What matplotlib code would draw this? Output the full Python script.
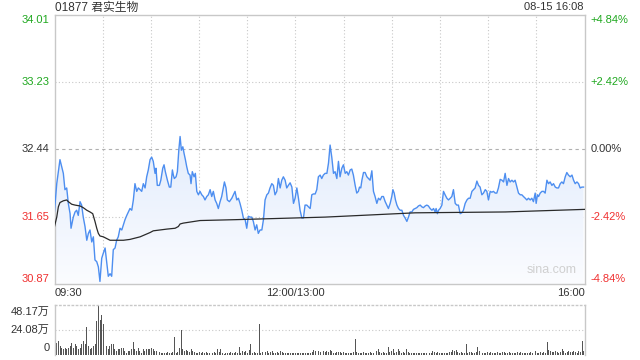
import numpy as np
import matplotlib
matplotlib.use('Agg')
import matplotlib.pyplot as plt
from matplotlib import transforms
from matplotlib.patches import Polygon
from matplotlib.colors import LinearSegmentedColormap

plt.rcParams['font.family'] = ['Liberation Sans', 'Noto Sans CJK SC', 'DejaVu Sans']

title = '01877 君实生物'
stamp = '08-15 16:08'
prev_close = 32.44
price_ticks = [30.87, 31.65, 32.44, 33.23, 34.01]
pct_labels = ['-4.84%', '-2.42%', '0.00%', '+2.42%', '+4.84%']
time_ticks = [0, 150, 330]
time_labels = ['09:30', '12:00/13:00', '16:00']
vol_ticks = [0, 24.08, 48.17]
vol_labels = ['0', '24.08万', '48.17万']

# minutes since 09:30 (lunch break removed) and last price
minutes = [0, 1.4, 3.4, 5.5, 6.5, 7.6, 8.6, 9.7, 10.3, 11.7,
           12.8, 13.8, 14.8, 15.9, 16.9, 17.9, 19.0, 20.1, 21.1, 22.1,
           23.2, 24.2, 25.2, 26.3, 27.3, 28.3, 29.4, 30.4, 31.5, 32.5,
           33.5, 34.6, 35.6, 36.6, 37.7, 38.7, 39.7, 40.8, 41.9, 42.9,
           43.9, 45.0, 46.0, 47.0, 48.1, 49.1, 50.1, 51.2, 52.2,
           53.3, 54.3, 55.3, 56.4, 57.4, 58.4, 59.5, 60.5, 61.5, 62.6,
           63.2, 64.0, 65.3, 66.2, 67.4, 68.2, 69.0, 70.3, 71.5, 72.4,
           73.4, 74.0, 74.6, 75.7, 76.5, 77.4, 78.2, 79.0, 79.9, 80.7,
           81.5, 82.3, 83.3, 84.4, 85.0, 85.8, 86.9, 87.7, 88.6, 89.6,
           90.6, 91.7, 92.7, 93.7, 94.8, 95.8, 96.9, 97.9, 98.9, 100.0,
           101.0, 102.0, 103.1, 104.1, 105.1, 105.8, 106.8, 107.6, 108.9,
           110.4, 111.4, 112.4, 113.5, 114.5, 115.5, 116.6, 117.6, 118.7, 119.7,
           120.7, 121.8, 122.8, 123.8, 124.9, 125.9, 126.9, 128.0, 129.1, 130.1,
           131.1, 132.2, 133.2, 134.2, 135.3, 136.3, 137.3, 138.4, 139.4, 140.5,
           141.5, 142.5, 143.6, 144.6, 145.6, 146.7, 147.8, 148.8, 149.8, 150.9,
           151.9, 152.9, 154.0, 155.0, 156.0, 157.1, 158.1, 159.2, 160.2, 161.2,
           162.3, 163.3, 164.3, 165.4,
           166.4, 167.4, 168.5, 169.6, 170.6, 171.6, 172.7, 173.7, 174.7, 175.8,
           176.8, 177.8, 178.9, 179.9, 181.0, 182.0, 183.0, 184.1, 185.1, 186.1,
           187.2, 188.2, 189.2, 189.9, 190.7, 191.4, 192.4, 193.4, 194.5, 195.5,
           196.5, 197.6, 198.6, 199.6, 200.7, 201.7, 202.8, 203.8, 204.8, 205.9,
           206.9, 207.9, 209.0, 210.0, 210.7, 211.5, 212.3, 213.2, 214.2, 215.2,
           216.3, 217.3, 218.3, 219.4, 220.4, 221.4,
           222.5, 223.5, 224.6, 225.6, 226.6, 227.7, 228.7, 229.7, 230.8, 231.8,
           232.8, 233.9, 235.0, 236.0, 237.0, 237.6, 238.4, 239.1, 240.1, 241.2,
           242.2, 243.2, 244.3, 245.3, 246.4, 247.4, 248.4, 249.5, 250.5, 251.5,
           252.6, 253.6, 254.6, 255.7, 256.8, 257.8, 258.8, 259.9, 260.9, 261.9,
           263.0, 264.0, 265.0, 266.1, 267.1, 268.2, 269.2, 270.2, 271.3, 272.3,
           273.3, 274.4, 275.4, 276.4, 277.5,
           278.6, 279.6, 280.6, 281.7, 282.7, 283.7, 284.8, 285.8, 286.8, 287.9,
           288.9, 290.0, 291.0, 292.0, 293.1, 294.1, 295.1, 296.2, 297.2, 298.2,
           299.3, 299.9, 300.7, 301.4, 302.4, 303.5, 304.5, 305.5, 306.6, 307.6,
           308.6, 309.7, 310.7, 311.8, 312.8, 313.8, 314.9, 315.9, 316.9, 318.0,
           319.0, 320.0, 321.1, 322.2, 323.2, 324.2, 325.3, 326.3, 327.3, 328.4,
           329.4]
price = [31.72, 32.04, 32.32, 32.16, 31.97, 31.99, 31.81, 31.69, 31.52, 31.65,
         31.71, 31.73, 31.67, 31.83, 31.79, 31.65, 31.54, 31.38, 31.46, 31.50,
         31.36, 31.42, 31.15, 31.13, 31.07, 30.90, 31.17, 31.23, 31.29, 31.13,
         30.96, 30.99, 30.96, 31.27, 31.29, 31.38, 31.42, 31.52, 31.50, 31.56,
         31.62, 31.67, 31.71, 31.75, 31.73, 31.85, 32.04, 31.95, 31.99,
         31.97, 31.95, 32.04, 31.99, 32.12, 32.20, 32.32, 32.35, 32.30, 32.16,
         32.22, 32.02, 32.02, 32.08, 32.22, 32.26, 32.18, 32.08, 32.00, 32.00,
         32.20, 32.14, 32.10, 32.12, 32.18, 32.43, 32.59, 32.43, 32.47, 32.39,
         32.32, 32.24, 32.16, 32.14, 32.04, 32.18, 32.12, 32.16, 31.95, 31.91,
         31.95, 31.91, 31.89, 31.85, 31.89, 31.91, 31.97, 31.89, 31.95, 31.85,
         31.81, 31.75, 31.83, 31.89, 31.99, 32.06, 31.99, 31.85, 31.83,
         31.87, 31.91, 31.95, 31.85, 31.87, 31.81, 31.73, 31.64, 31.62, 31.52,
         31.66, 31.65, 31.65, 31.60, 31.50, 31.56, 31.46, 31.50, 31.50, 31.62,
         31.85, 31.91, 31.93, 31.99, 32.04, 32.02, 31.91, 31.95, 32.10, 31.99,
         32.08, 32.12, 32.08, 31.99, 32.02, 32.05, 32.00, 31.81, 31.87, 31.99,
         31.87, 31.73, 31.64, 31.64, 31.79, 31.79, 31.77, 31.75, 31.91, 31.92,
         31.92, 31.97, 32.12, 32.14,
         32.10, 32.14, 32.16, 32.16, 32.28, 32.49, 32.34, 32.16, 32.18, 32.10,
         32.30, 32.12, 32.22, 32.26, 32.16, 32.18, 32.14, 32.20, 32.21, 32.14,
         32.02, 31.93, 31.95, 32.00, 31.99, 32.08, 32.17, 32.17, 32.12, 32.10,
         32.08, 32.19, 31.95, 31.89, 31.81, 31.87, 31.85, 31.89, 31.89, 31.83,
         31.79, 31.75, 31.81, 31.89, 31.97, 31.93, 31.85, 31.79, 31.75, 31.73,
         31.73, 31.67, 31.64, 31.60, 31.65, 31.71,
         31.71, 31.74, 31.75, 31.76, 31.78, 31.79, 31.77, 31.76, 31.78, 31.79,
         31.78, 31.75, 31.73, 31.75, 31.71, 31.75, 31.69, 31.73, 31.75, 31.79,
         31.95, 31.91, 31.87, 31.85, 31.87, 31.89, 31.97, 31.81, 31.79, 31.79,
         31.69, 31.70, 31.73, 31.81, 31.85, 31.87, 31.87, 31.95, 31.97, 31.99,
         32.07, 32.02, 32.00, 31.91, 31.93, 31.97, 31.95, 31.85, 31.95, 31.94,
         31.95, 31.93, 31.93, 31.99, 32.09,
         32.08, 32.06, 32.16, 32.02, 32.10, 32.06, 32.08, 32.06, 32.08, 32.00,
         31.93, 31.91, 31.91, 31.89, 31.87, 31.85, 31.87, 31.85, 31.87, 31.83,
         31.93, 31.81, 31.91, 31.89, 31.93, 31.95, 31.95, 31.93, 32.08, 32.04,
         32.06, 32.02, 32.04, 32.00, 31.99, 31.99, 32.04, 32.06, 32.04, 32.12,
         32.17, 32.14, 32.12, 32.14, 32.08, 32.04, 32.06, 32.04, 31.99, 32.00,
         32.00]

avg_minutes = [0, 1.4, 2.4, 3.4, 5.5, 7.6, 8.6, 10.7, 12.8, 15.9,
               17.9, 20.1, 22.1, 23.8, 25.2, 26.3, 27.3, 28.3, 30.4, 32.5,
               34.6, 38.7, 42.9, 47.0, 51.2, 53.3, 59.5, 61.5, 69.9, 75.1,
               77.1, 78.2, 80.2, 90.6, 112.4, 168.5, 224.6, 280.6, 330]
avg_price = [31.54, 31.65, 31.77, 31.82, 31.84, 31.85, 31.83, 31.80, 31.79, 31.78,
             31.76, 31.73, 31.71, 31.69, 31.60, 31.52, 31.46, 31.43, 31.42, 31.40,
             31.38, 31.38, 31.38, 31.39, 31.41, 31.42, 31.47, 31.49, 31.51, 31.52,
             31.54, 31.57, 31.58, 31.61, 31.62, 31.65, 31.70, 31.71, 31.74]

# volume per minute, in 万 shares
volume = [35.8, 11.8, 13.4, 8.6, 7.0, 5.4, 7.0, 5.4, 7.0, 8.6,
          11.8, 7.0, 10.2, 8.6, 5.4, 7.0, 10.2, 13.4, 10.2, 26.9,
          8.6, 5.4, 7.0, 8.6, 10.2, 32.6, 48.17, 34.2, 39.0, 29.4,
          10.2, 8.6, 5.4, 8.6, 10.2, 10.2, 5.4, 3.9, 5.4, 5.4,
          7.0, 7.0, 3.9, 2.2, 3.9, 3.9, 5.4, 12.8, 5.4, 3.9,
          7.0, 3.9, 2.2, 5.4, 3.9, 5.4, 5.4, 5.4, 7.0, 5.4,
          3.9, 3.9, 2.2, 3.2, 2.2, 2.2, 2.2, 2.2, 3.2, 2.2,
          2.2, 2.9, 17.3, 2.2, 3.2, 7.0, 24.0, 5.4, 3.9, 4.5,
          3.9, 3.2, 5.4, 3.9, 3.2, 2.2, 2.2, 2.9, 2.2, 3.2,
          2.2, 2.9, 2.2, 2.2, 3.9, 2.2, 2.9, 2.2, 5.4, 2.9,
          5.4, 2.2, 1.3, 1.9, 2.2, 1.9, 2.9, 2.2, 1.9, 2.9,
          2.2, 7.7, 2.2, 3.9, 2.9, 3.9, 1.9, 5.1, 10.2, 2.2,
          2.9, 2.2, 2.2, 30.1, 1.9, 2.9, 3.9, 3.2, 3.9, 2.2,
          2.9, 3.9, 2.2, 2.2, 2.9, 2.2, 3.9, 2.9, 2.2, 1.9,
          2.2, 1.9, 1.9, 2.2, 1.9, 2.2, 1.9, 2.2, 1.6, 1.9,
          2.2, 1.9, 2.2, 2.2, 1.9, 3.2, 4.8, 3.9, 2.9, 3.9,
          3.2, 2.9, 3.9, 2.6, 3.9, 2.9, 4.5, 3.9, 2.2, 1.9,
          2.6, 2.9, 3.2, 1.9, 2.6, 1.9, 1.9, 2.2, 1.9, 2.2,
          3.2, 15.4, 2.9, 2.2, 2.2, 1.9, 2.6, 1.9, 1.9, 2.2,
          2.6, 1.9, 1.9, 12.5, 3.9, 5.4, 3.2, 2.2, 3.2, 2.2,
          1.9, 7.7, 2.9, 3.9, 5.4, 2.2, 3.2, 5.4, 3.9, 2.2,
          3.2, 1.9, 5.4, 2.9, 1.9, 2.2, 1.9, 2.2, 1.9, 2.2,
          1.9, 2.2, 1.9, 2.2, 1.9, 2.2, 2.2, 1.9, 3.9, 2.9,
          2.2, 2.9, 1.9, 2.2, 1.9, 2.2, 1.9, 2.2, 3.2, 2.9,
          4.5, 3.9, 5.1, 2.9, 2.2, 3.2, 1.9, 1.9, 10.9, 1.9,
          3.2, 2.6, 1.9, 2.2, 2.9, 7.7, 3.9, 2.2, 1.9, 2.2,
          1.9, 2.9, 2.2, 2.6, 1.9, 2.2, 1.9, 2.9, 1.9, 2.2,
          3.2, 2.6, 1.9, 2.2, 2.6, 1.9, 1.9, 2.2, 1.9, 2.9,
          2.2, 2.6, 1.9, 2.2, 1.9, 2.2, 1.9, 2.9, 1.9, 2.2,
          3.9, 2.2, 1.9, 3.2, 1.9, 2.6, 1.9, 12.5, 4.5, 3.9,
          3.2, 2.9, 3.9, 3.2, 1.9, 2.9, 5.4, 3.9, 1.9, 3.2,
          3.9, 2.9, 3.2, 3.9, 3.2, 1.9, 3.9, 3.2, 13.4, 3.9]

GREEN = '#1fa81f'
RED = '#f03030'
TEXT = '#333333'
GRID = '#c8c8c8'
LINE = '#4d8ef0'

fig = plt.figure(figsize=(6.4, 3.6), dpi=100)
ax = fig.add_axes([54.5 / 640, 1 - 284 / 360, 530 / 640, 269.3 / 360])
vax = fig.add_axes([54.5 / 640, 1 - 355 / 360, 530 / 640, 50 / 360])

ylo, yhi = price_ticks[0], price_ticks[-1]

# gradient fill under the price line
poly = Polygon(np.column_stack([np.r_[minutes, minutes[-1], minutes[0]],
                                np.r_[price, ylo, ylo]]),
               closed=True, facecolor='none', edgecolor='none')
ax.add_patch(poly)
cmap = LinearSegmentedColormap.from_list('fill', ['#fbfcff', '#e2ecfc'])
grad = np.linspace(1, 0, 256).reshape(-1, 1)
im = ax.imshow(grad, cmap=cmap, extent=[0, 330, ylo, 32.6], aspect='auto',
               origin='upper', zorder=1)
im.set_clip_path(poly)

for m in range(30, 330, 30):
    ax.axvline(m, color=GRID, lw=0.8, ls=(0, (1, 2)), zorder=0)
for p in price_ticks[1:-1]:
    if p == prev_close:
        ax.axhline(p, color='#b0b0b0', lw=0.8, ls=(0, (3, 3)), zorder=0)
    else:
        ax.axhline(p, color=GRID, lw=0.8, ls=(0, (1, 2)), zorder=0)

ax.plot(minutes, price, color=LINE, lw=1.0, zorder=3)
ax.plot(avg_minutes, avg_price, color='#2a2a2a', lw=0.9, zorder=4)

ax.set_xlim(0, 330)
ax.set_ylim(ylo, yhi)
ax.set_xticks([])
ax.set_yticks([])
for s in ax.spines.values():
    s.set_color(GRID)
    s.set_linewidth(1)

lt = transforms.blended_transform_factory(ax.transAxes, ax.transData)
for i, (p, lab) in enumerate(zip(price_ticks, pct_labels)):
    c = TEXT if p == prev_close else (RED if p < prev_close else GREEN)
    va = 'bottom' if i == 0 else ('top' if i == len(price_ticks) - 1 else 'center')
    ax.text(-0.009, p, f'{p:.2f}', transform=lt, ha='right', va=va, color=c, fontsize=8)
    ax.text(1.011, p, lab, transform=lt, ha='left', va=va, color=c, fontsize=8)

bt = transforms.blended_transform_factory(ax.transData, ax.transAxes)
for m, lab, ha in zip(time_ticks, time_labels, ['left', 'center', 'right']):
    ax.text(m, -0.034, lab, transform=bt, ha=ha, va='center', color=TEXT, fontsize=8)

ax.text(0.985, 0.03, 'sina.com', transform=ax.transAxes, ha='right', va='bottom',
        color='#d0d0d0', fontsize=9)

fig.text(55 / 640, 1 - 7.5 / 360, title, ha='left', va='center', color=TEXT, fontsize=8.5)
fig.text(583 / 640, 1 - 7.5 / 360, stamp, ha='right', va='center', color=TEXT, fontsize=8)

# volume panel
vmin = np.linspace(0.5, 329.5, len(volume))
vax.bar(vmin, volume, width=0.6, color='#555555', zorder=2)
vax.set_xlim(0, 330)
vax.set_ylim(0, vol_ticks[-1])
vax.set_xticks([])
vax.set_yticks([])
vax.axhline(vol_ticks[1], color=GRID, lw=0.8, ls=(0, (1, 2)), zorder=0)
vax.spines['top'].set_linestyle((0, (1, 2)))
for s in vax.spines.values():
    s.set_color(GRID)
    s.set_linewidth(1)
vax.spines['bottom'].set_visible(False)
for frac, lab in zip([0.14, 0.5, 0.866], vol_labels):
    vax.text(-0.009, frac, lab, transform=vax.transAxes, ha='right', va='center',
             color=TEXT, fontsize=8)

fig.savefig('out.png', dpi=100)
